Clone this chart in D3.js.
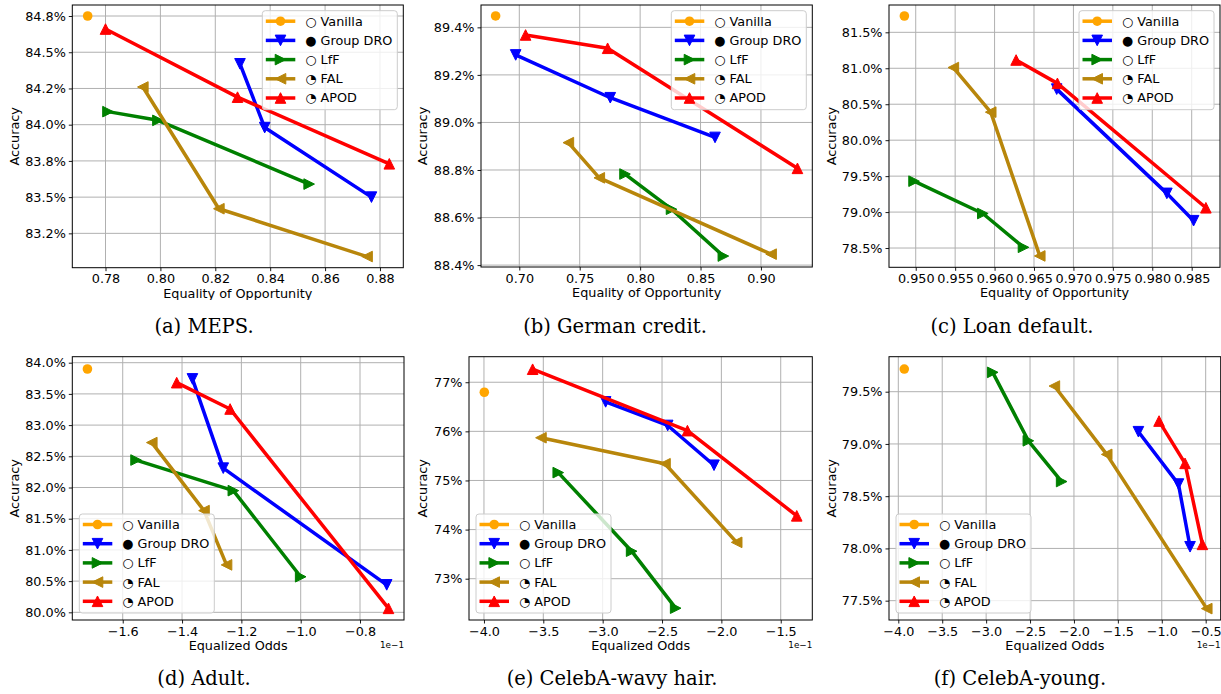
<!DOCTYPE html>
<html>
<head>
<meta charset="utf-8">
<script src="https://cdn.jsdelivr.net/npm/d3@7"></script>
<style>
  html, body { margin: 0; padding: 0; background: #fff; }
  svg { display: block; font-family: 'DejaVu Sans', sans-serif; }
</style>
</head>
<body>
<svg id="fig" width="1221" height="694"></svg>
<script>
'use strict';

const methods = ['Vanilla', 'Group DRO', 'LfF', 'FAL', 'APOD'];
const glyphs = ['\u25CB', '\u25CF', '\u25CB', '\u25D4', '\u25D4'];
const colors = ['#ffa500', '#0000ff', '#008000', '#b8860b', '#ff0000'];
const markers = ['circle', 'down', 'right', 'left', 'up'];

// (a) MEPS
const meps = {
  'Vanilla': [[0.7735, 84.75]],
  'Group DRO': [[0.829, 84.42], [0.838, 83.98], [0.8769, 83.50]],
  'LfF': [[0.7809, 84.09], [0.7991, 84.03], [0.8542, 83.59]],
  'FAL': [[0.7936, 84.26], [0.8213, 83.42], [0.8753, 83.09]],
  'APOD': [[0.7800, 84.66], [0.8281, 84.19], [0.8834, 83.73]]
};
const mepsXTicks = [0.78, 0.80, 0.82, 0.84, 0.86, 0.88];
const mepsXLabels = ['0.78', '0.80', '0.82', '0.84', '0.86', '0.88'];
const mepsYTicks = [84.75, 84.5, 84.25, 84.0, 83.75, 83.5, 83.25];
const mepsYLabels = ['84.8%', '84.5%', '84.2%', '84.0%', '83.8%', '83.5%', '83.2%'];

// (b) German credit
const german = {
  'Vanilla': [[0.6804, 89.448]],
  'Group DRO': [[0.697, 89.284], [0.7753, 89.104], [0.862, 88.937]],
  'LfF': [[0.7875, 88.783], [0.826, 88.635], [0.8689, 88.438]],
  'FAL': [[0.7406, 88.915], [0.7662, 88.767], [0.9084, 88.446]],
  'APOD': [[0.7052, 89.368], [0.7731, 89.312], [0.9302, 88.807]]
};
const germanXTicks = [0.70, 0.75, 0.80, 0.85, 0.90];
const germanXLabels = ['0.70', '0.75', '0.80', '0.85', '0.90'];
const germanYTicks = [89.4, 89.2, 89.0, 88.8, 88.6, 88.4];
const germanYLabels = ['89.4%', '89.2%', '89.0%', '88.8%', '88.6%', '88.4%'];

// (c) Loan default
const loan = {
  'Vanilla': [[0.94856, 81.727]],
  'Group DRO': [[0.96788, 80.71], [0.98185, 79.26], [0.98524, 78.88]],
  'LfF': [[0.94979, 79.43], [0.95851, 78.98], [0.96367, 78.51]],
  'FAL': [[0.95477, 81.01], [0.95951, 80.39], [0.96573, 78.39]],
  'APOD': [[0.96273, 81.115], [0.96797, 80.79], [0.98680, 79.06]]
};
const loanXTicks = [0.950, 0.955, 0.960, 0.965, 0.970, 0.975, 0.980, 0.985];
const loanXLabels = ['0.950', '0.955', '0.960', '0.965', '0.970', '0.975', '0.980', '0.985'];
const loanYTicks = [81.5, 81.0, 80.5, 80.0, 79.5, 79.0, 78.5];
const loanYLabels = ['81.5%', '81.0%', '80.5%', '80.0%', '79.5%', '79.0%', '78.5%'];

// (d) Adult  (x in units of 1e-1)
const adult = {
  'Vanilla': [[-1.719, 83.899]],
  'Group DRO': [[-1.365, 83.74], [-1.261, 82.31], [-0.710, 80.44]],
  'LfF': [[-1.555, 82.44], [-1.227, 81.95], [-1.0, 80.57]],
  'FAL': [[-1.502, 82.72], [-1.326, 81.63], [-1.25, 80.76]],
  'APOD': [[-1.418, 83.68], [-1.238, 83.258], [-0.704, 80.064]]
};
const adultXTicks = [-1.6, -1.4, -1.2, -1.0, -0.8];
const adultXLabels = ['\u22121.6', '\u22121.4', '\u22121.2', '\u22121.0', '\u22120.8'];
const adultYTicks = [84.0, 83.5, 83.0, 82.5, 82.0, 81.5, 81.0, 80.5, 80.0];
const adultYLabels = ['84.0%', '83.5%', '83.0%', '82.5%', '82.0%', '81.5%', '81.0%', '80.5%', '80.0%'];

// (e) CelebA-wavy hair
const wavy = {
  'Vanilla': [[-3.997, 76.796]],
  'Group DRO': [[-2.975, 76.60], [-2.452, 76.12], [-2.062, 75.31]],
  'LfF': [[-3.374, 75.16], [-2.756, 73.56], [-2.385, 72.40]],
  'FAL': [[-3.520, 75.87], [-2.475, 75.34], [-1.871, 73.74]],
  'APOD': [[-3.59, 77.265], [-2.286, 76.015], [-1.365, 74.28]]
};
const wavyXTicks = [-4.0, -3.5, -3.0, -2.5, -2.0, -1.5];
const wavyXLabels = ['\u22124.0', '\u22123.5', '\u22123.0', '\u22122.5', '\u22122.0', '\u22121.5'];
const wavyYTicks = [77, 76, 75, 74, 73];
const wavyYLabels = ['77%', '76%', '75%', '74%', '73%'];

// (f) CelebA-young
const young = {
  'Vanilla': [[-3.932, 79.717]],
  'Group DRO': [[-1.266, 79.117], [-0.810, 78.616], [-0.678, 78.016]],
  'LfF': [[-2.925, 79.685], [-2.519, 79.03], [-2.14, 78.64]],
  'FAL': [[-2.223, 79.554], [-1.627, 78.90], [-0.488, 77.424]],
  'APOD': [[-1.031, 79.219], [-0.735, 78.814], [-0.537, 78.039]]
};
const youngXTicks = [-4.0, -3.5, -3.0, -2.5, -2.0, -1.5, -1.0, -0.5];
const youngXLabels = ['\u22124.0', '\u22123.5', '\u22123.0', '\u22122.5', '\u22122.0', '\u22121.5', '\u22121.0', '\u22120.5'];
const youngYTicks = [79.5, 79.0, 78.5, 78.0, 77.5];
const youngYLabels = ['79.5%', '79.0%', '78.5%', '78.0%', '77.5%'];

const panels = [
  { caption: '(a) MEPS.', xLabel: 'Equality of Opportunity', data: meps,
    xt: mepsXTicks, xl: mepsXLabels, yt: mepsYTicks, yl: mepsYLabels,
    box: [72.3, 5, 403.3, 267.7], xDom: [0.7679, 0.8885], yDom: [83.013, 84.826],
    yLabX: 19, capX: 204, capY: 333, clip: 300, legend: 'ur', offset: false },
  { caption: '(b) German credit.', xLabel: 'Equality of Opportunity', data: german,
    xt: germanXTicks, xl: germanXLabels, yt: germanYTicks, yl: germanYLabels,
    box: [481, 5, 812.3, 267], xDom: [0.6683, 0.9425], yDom: [88.392, 89.494],
    yLabX: 427, capX: 615, capY: 333, clip: 300, legend: 'ur', offset: false },
  { caption: '(c) Loan default.', xLabel: 'Equality of Opportunity', data: loan,
    xt: loanXTicks, xl: loanXLabels, yt: loanYTicks, yl: loanYLabels,
    box: [889, 5, 1220, 267.3], xDom: [0.94661, 0.98859], yDom: [78.232, 81.88],
    yLabX: 835.5, capX: 1012, capY: 333, clip: 300, legend: 'ur', offset: false },
  { caption: '(d) Adult.', xLabel: 'Equalized Odds', data: adult,
    xt: adultXTicks, xl: adultXLabels, yt: adultYTicks, yl: adultYLabels,
    box: [72.3, 356.7, 404, 620], xDom: [-1.770, -0.6517], yDom: [79.877, 84.096],
    yLabX: 19, capX: 204, capY: 685, clip: 653, legend: 'll', offset: true },
  { caption: '(e) CelebA-wavy hair.', xLabel: 'Equalized Odds', data: wavy,
    xt: wavyXTicks, xl: wavyXLabels, yt: wavyYTicks, yl: wavyYLabels,
    box: [469, 356.7, 812.3, 620], xDom: [-4.126, -1.234], yDom: [72.159, 77.52],
    yLabX: 427, capX: 612, capY: 685, clip: 653, legend: 'll', offset: true },
  { caption: '(f) CelebA-young.', xLabel: 'Equalized Odds', data: young,
    xt: youngXTicks, xl: youngXLabels, yt: youngYTicks, yl: youngYLabels,
    box: [889, 356.7, 1220.7, 620], xDom: [-4.106, -0.329], yDom: [77.315, 79.835],
    yLabX: 835.5, capX: 1020, capY: 685, clip: 653, legend: 'll', offset: true }
];

const FS = 12.8;
const svg = d3.select('#fig');
const defs = svg.append('defs');

function markerPath(kind, s) {
  if (kind === 'up') return `M0,${-s}L${-s},${s}L${s},${s}Z`;
  if (kind === 'down') return `M0,${s}L${-s},${-s}L${s},${-s}Z`;
  if (kind === 'right') return `M${s},0L${-s},${-s}L${-s},${s}Z`;
  return `M${-s},0L${s},${-s}L${s},${s}Z`;
}

function drawMarker(g, kind, color, x, y) {
  if (kind === 'circle') {
    g.append('circle').attr('cx', x).attr('cy', y).attr('r', 4.8).attr('fill', color);
  } else {
    g.append('path')
      .attr('transform', `translate(${x},${y})`)
      .attr('d', markerPath(kind, 5.3))
      .attr('fill', color)
      .attr('stroke', color)
      .attr('stroke-width', 1)
      .attr('stroke-linejoin', 'miter');
  }
}

panels.forEach((p, pi) => {
  const [left, top, right, bottom] = p.box;
  const x = d3.scaleLinear().domain(p.xDom).range([left, right]);
  const y = d3.scaleLinear().domain(p.yDom).range([bottom, top]);

  defs.append('clipPath').attr('id', `clip${pi}`)
    .append('rect').attr('x', 0).attr('y', 0).attr('width', 1221).attr('height', p.clip);
  defs.append('clipPath').attr('id', `plot${pi}`)
    .append('rect').attr('x', left).attr('y', top)
    .attr('width', right - left).attr('height', bottom - top);

  const g = svg.append('g').attr('clip-path', `url(#clip${pi})`);

  // grid
  const grid = g.append('g').attr('stroke', '#b0b0b0').attr('stroke-width', 1);
  p.xt.forEach(t => {
    grid.append('line').attr('x1', x(t)).attr('x2', x(t)).attr('y1', top).attr('y2', bottom);
  });
  p.yt.forEach(t => {
    grid.append('line').attr('x1', left).attr('x2', right).attr('y1', y(t)).attr('y2', y(t));
  });

  // axes
  const xAxis = d3.axisBottom(x).tickValues(p.xt)
    .tickFormat((d, i) => p.xl[i]).tickSize(3.5).tickPadding(3);
  const yAxis = d3.axisLeft(y).tickValues(p.yt)
    .tickFormat((d, i) => p.yl[i]).tickSize(3.5).tickPadding(3);

  const gx = g.append('g').attr('transform', `translate(0,${bottom})`).call(xAxis);
  const gy = g.append('g').attr('transform', `translate(${left},0)`).call(yAxis);
  [gx, gy].forEach(a => {
    a.select('.domain').remove();
    a.selectAll('text').attr('font-size', FS).attr('fill', '#000')
      .attr('font-family', 'DejaVu Sans');
    a.selectAll('line').attr('stroke', '#000').attr('stroke-width', 0.9);
  });

  // data
  const plot = g.append('g').attr('clip-path', `url(#plot${pi})`);
  const line = d3.line().x(d => x(d[0])).y(d => y(d[1]));
  methods.forEach((m, mi) => {
    const pts = p.data[m];
    if (pts.length > 1) {
      plot.append('path').datum(pts)
        .attr('d', line)
        .attr('fill', 'none')
        .attr('stroke', colors[mi])
        .attr('stroke-width', 3.5)
        .attr('stroke-linejoin', 'round');
    }
    pts.forEach(d => drawMarker(plot, markers[mi], colors[mi], x(d[0]), y(d[1])));
  });

  // spines
  g.append('rect')
    .attr('x', left).attr('y', top)
    .attr('width', right - left).attr('height', bottom - top)
    .attr('fill', 'none').attr('stroke', '#000').attr('stroke-width', 1);

  // legend
  const lw = 135, lh = 99;
  const lx = p.legend === 'ur' ? right - 141 : left + 7;
  const ly = p.legend === 'ur' ? top + 5.7 : bottom - 7 - lh;
  const lg = g.append('g').attr('transform', `translate(${lx},${ly})`);
  lg.append('rect').attr('width', lw).attr('height', lh).attr('rx', 3)
    .attr('fill', '#fff').attr('fill-opacity', 0.8)
    .attr('stroke', '#cccccc').attr('stroke-width', 1);
  methods.forEach((m, mi) => {
    const ry = 10.5 + mi * 19.2;
    lg.append('line').attr('x1', 3.5).attr('x2', 33).attr('y1', ry).attr('y2', ry)
      .attr('stroke', colors[mi]).attr('stroke-width', 3.5);
    drawMarker(lg, markers[mi], colors[mi], 18.2, ry);
    lg.append('text').attr('x', 43).attr('y', ry).attr('dy', '0.35em')
      .attr('font-size', FS).text(`${glyphs[mi]} ${m}`);
  });

  // axis labels
  g.append('text')
    .attr('x', (left + right) / 2).attr('y', bottom + 30)
    .attr('text-anchor', 'middle').attr('font-size', FS)
    .text(p.xLabel);
  g.append('text')
    .attr('transform', `translate(${p.yLabX},${(top + bottom) / 2}) rotate(-90)`)
    .attr('text-anchor', 'middle').attr('font-size', FS)
    .text('Accuracy');

  if (p.offset) {
    g.append('text')
      .attr('x', right).attr('y', bottom + 28)
      .attr('text-anchor', 'end').attr('font-size', 8.8)
      .text('1e\u22121');
  }

  // caption
  svg.append('text')
    .attr('x', p.capX).attr('y', p.capY)
    .attr('text-anchor', 'middle')
    .attr('font-family', 'DejaVu Serif, serif')
    .attr('font-size', 19.5)
    .text(p.caption);
});
</script>
</body>
</html>
